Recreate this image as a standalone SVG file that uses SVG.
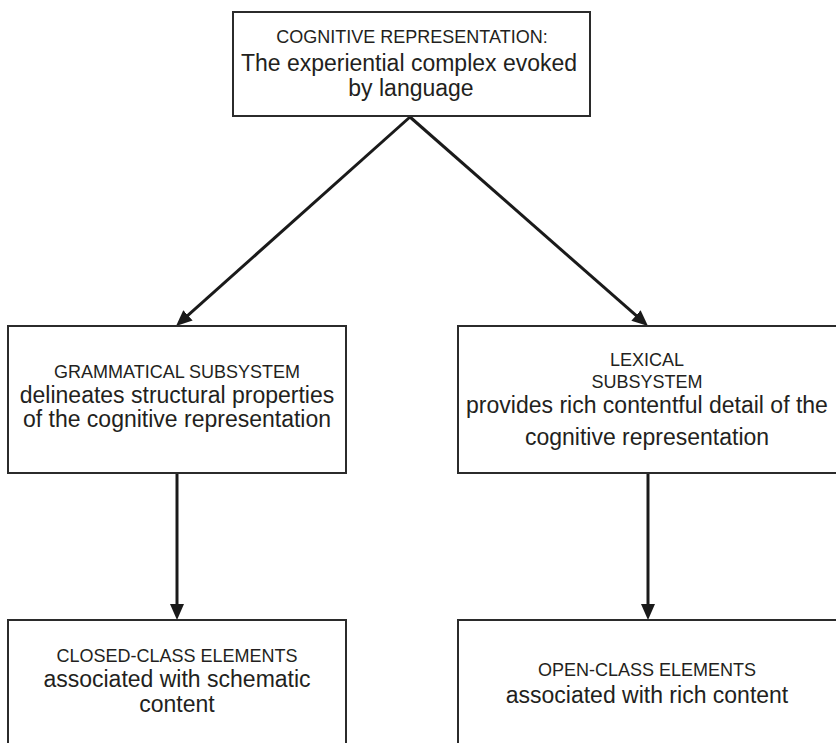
<svg xmlns="http://www.w3.org/2000/svg" width="836" height="743" viewBox="0 0 836 743">
  <style>
    .box { fill: #fff; stroke: #2b2b2b; stroke-width: 2; }
    .cap { font-family: "Liberation Sans", Arial, sans-serif; font-size: 18px; fill: #231f20; text-anchor: middle; }
    .txt { font-family: "Liberation Sans", Arial, sans-serif; font-size: 23px; fill: #231f20; text-anchor: middle; }
    .edge { stroke: #1a1a1a; stroke-width: 3; fill: none; marker-end: url(#head); }
  </style>
  <defs>
    <marker id="head" markerUnits="userSpaceOnUse" markerWidth="16" markerHeight="14" refX="8" refY="7" orient="auto">
      <path d="M0,0 L16,7 L0,14 z" fill="#1a1a1a"/>
    </marker>
  </defs>
  <rect width="836" height="743" fill="#fff"/>

  <g id="connectors">
    <line class="edge" x1="410" y1="117" x2="182" y2="320.7"/>
    <line class="edge" x1="410" y1="117" x2="642" y2="320.7"/>
    <line class="edge" x1="177" y1="473" x2="177" y2="612"/>
    <line class="edge" x1="648" y1="473" x2="648" y2="612"/>
  </g>

  <g id="cognitive-representation">
    <rect class="box" x="233" y="12" width="357" height="104"/>
    <text class="cap" x="412" y="43">COGNITIVE REPRESENTATION:</text>
    <text class="txt" x="409" y="71">The experiential complex evoked</text>
    <text class="txt" x="411" y="96">by language</text>
  </g>

  <g id="grammatical-subsystem">
    <rect class="box" x="8" y="326" width="338" height="147"/>
    <text class="cap" x="177" y="378">GRAMMATICAL SUBSYSTEM</text>
    <text class="txt" x="177" y="403">delineates structural properties</text>
    <text class="txt" x="177" y="427">of the cognitive representation</text>
  </g>

  <g id="lexical-subsystem">
    <rect class="box" x="458" y="326" width="382" height="147"/>
    <text class="cap" x="647" y="366">LEXICAL</text>
    <text class="cap" x="647" y="388">SUBSYSTEM</text>
    <text class="txt" x="647" y="413">provides rich contentful detail of the</text>
    <text class="txt" x="647" y="445">cognitive representation</text>
  </g>

  <g id="closed-class-elements">
    <rect class="box" x="8" y="620" width="338" height="130"/>
    <text class="cap" x="177" y="662">CLOSED-CLASS ELEMENTS</text>
    <text class="txt" x="177" y="687">associated with schematic</text>
    <text class="txt" x="177" y="712">content</text>
  </g>

  <g id="open-class-elements">
    <rect class="box" x="458" y="620" width="382" height="130"/>
    <text class="cap" x="647" y="676">OPEN-CLASS ELEMENTS</text>
    <text class="txt" x="647" y="703">associated with rich content</text>
  </g>
</svg>
